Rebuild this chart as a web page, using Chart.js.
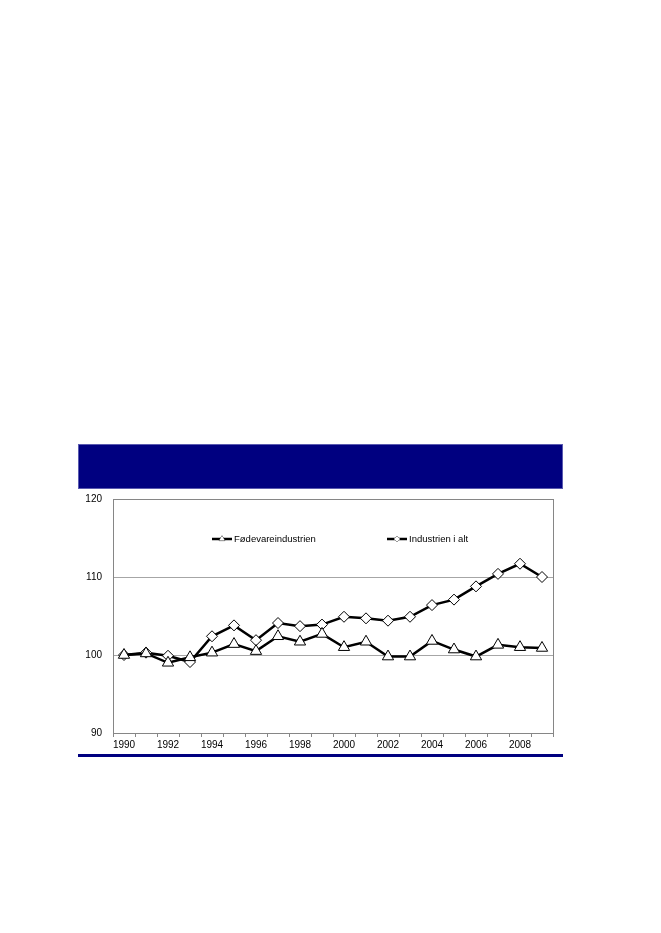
<!DOCTYPE html>
<html>
<head>
<meta charset="utf-8">
<script src="https://cdn.jsdelivr.net/npm/chart.js@4"></script>
<style>
html,body{margin:0;padding:0;background:#fff;}
#wrap{position:relative;width:661px;height:933px;}
#hdr{position:absolute;left:78px;top:444px;width:483px;height:43px;background:#000080;border:1px solid #5a5ab0;}
#foot{position:absolute;left:78px;top:754px;width:485px;height:3px;background:#000080;}
canvas{position:absolute;left:0;top:0;}
</style>
</head>
<body>
<div id="wrap">
<div id="hdr"></div>
<div id="foot"></div>
<canvas id="c" width="661" height="933"></canvas>
</div>
<script>
const years = ['1990','1991','1992','1993','1994','1995','1996','1997','1998','1999','2000','2001','2002','2003','2004','2005','2006','2007','2008','2009'];
const foedevare = [100.0,100.2,99.0,99.7,100.3,101.4,100.5,102.4,101.7,102.7,101.0,101.7,99.8,99.8,101.8,100.7,99.8,101.3,101.0,100.9];
const industriIalt = [100.0,100.3,99.9,99.1,102.4,103.8,101.9,104.1,103.7,103.9,104.9,104.7,104.4,104.9,106.4,107.1,108.8,110.4,111.7,110.0];
const seriesNames = ['Fødevareindustrien','Industrien i alt'];
const yTicks = {min:90, max:120, step:10};

const FONT = 'Liberation Sans, Arial, sans-serif';

const frame = {
  id:'frame',
  afterDraw(chart){
    const {ctx, chartArea:a} = chart;
    ctx.save();
    ctx.strokeStyle = '#868686';
    ctx.lineWidth = 1;
    ctx.strokeRect(Math.round(a.left)+0.5, Math.round(a.top)+0.5, Math.round(a.right-a.left), Math.round(a.bottom-a.top));
    // legend
    const items = [
      {x:212, text:seriesNames[0], style:'triangle', r:3.2},
      {x:387, text:seriesNames[1], style:'rectRot', r:3}
    ];
    const y = 539;
    ctx.font = '9.5px ' + FONT;
    ctx.textBaseline = 'middle';
    items.forEach(it=>{
      ctx.strokeStyle = '#000';
      ctx.lineWidth = 2.5;
      ctx.beginPath(); ctx.moveTo(it.x, y); ctx.lineTo(it.x+20, y); ctx.stroke();
      ctx.lineWidth = 0.8;
      ctx.fillStyle = '#fff';
      Chart.helpers.drawPoint(ctx, {pointStyle: it.style, radius: it.r, borderWidth: 0.8}, it.x+10, y);
      ctx.fill();
      ctx.fillStyle = '#000';
      ctx.fillText(it.text, it.x+22, y+0.5);
    });
    ctx.restore();
  }
};

new Chart(document.getElementById('c'), {
  type:'line',
  data:{
    labels:years,
    datasets:[
      {label:seriesNames[0], data:foedevare, borderColor:'#000', borderWidth:2.5, pointStyle:'triangle', pointRadius:6.5, pointBackgroundColor:'#fff', pointBorderColor:'#000', pointBorderWidth:1, tension:0},
      {label:seriesNames[1], data:industriIalt, borderColor:'#000', borderWidth:2.5, pointStyle:'rectRot', pointRadius:5.5, pointBackgroundColor:'#fff', pointBorderColor:'#000', pointBorderWidth:1, tension:0}
    ]
  },
  options:{
    responsive:false,
    animation:false,
    devicePixelRatio:1,
    layout:{padding:{left:60, top:499, right:108, bottom:176}},
    plugins:{legend:{display:false}, tooltip:{enabled:false}},
    scales:{
      x:{
        type:'category',
        offset:true,
        afterFit(s){ s.height = 24; },
        grid:{display:true, drawOnChartArea:false, drawTicks:true, tickLength:4, offset:true, color:'#868686'},
        border:{display:true, color:'#868686'},
        ticks:{autoSkip:false, maxRotation:0, color:'#000', font:{family:FONT, size:10}, padding:2,
          callback(v,i){ return i%2===0 ? years[i] : ''; }}
      },
      y:{
        min:yTicks.min, max:yTicks.max,
        afterFit(s){ s.width = 53; },
        grid:{color:'#a6a6a6', drawTicks:false},
        border:{display:true, color:'#868686'},
        ticks:{stepSize:yTicks.step, color:'#000', font:{family:FONT, size:10}, padding:11}
      }
    }
  },
  plugins:[frame]
});
</script>
</body>
</html>
